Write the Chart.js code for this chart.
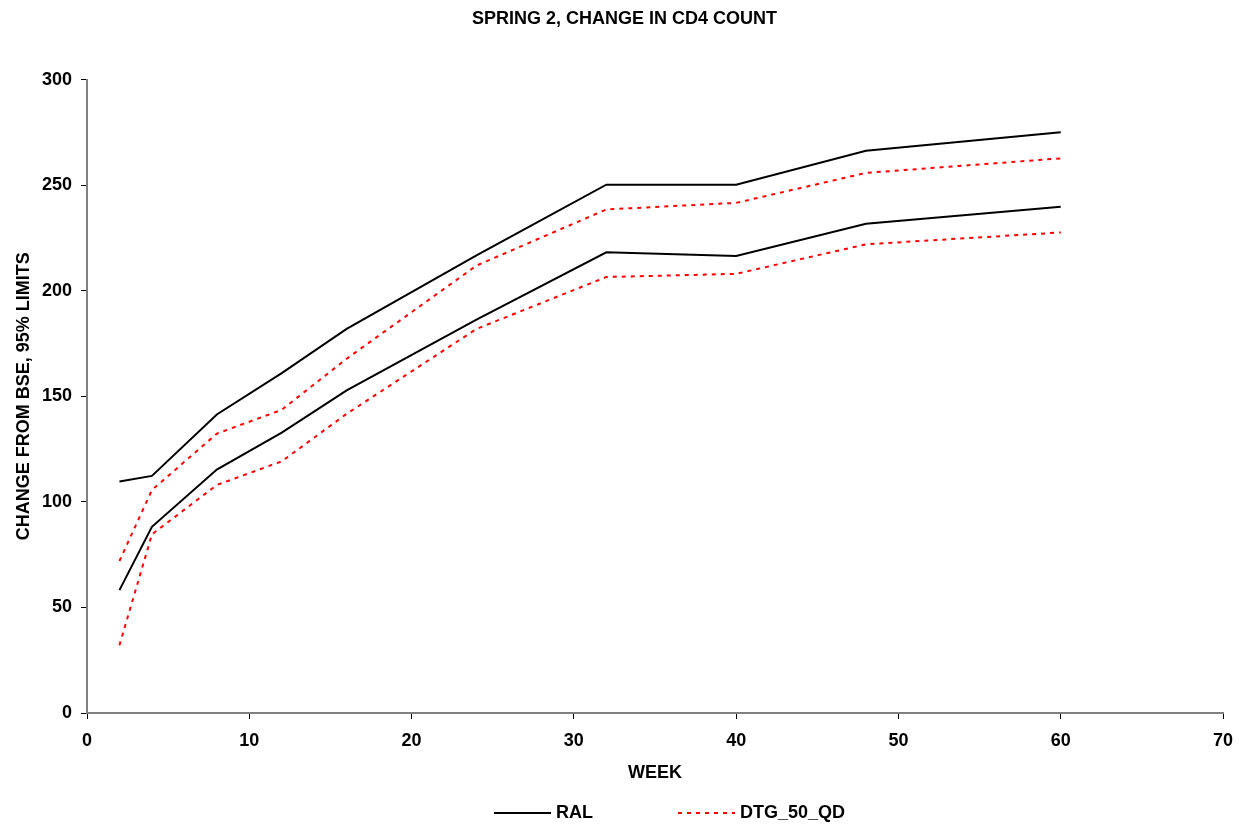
<!DOCTYPE html>
<html>
<head>
<meta charset="utf-8">
<title>SPRING 2, CHANGE IN CD4 COUNT</title>
<script src="https://cdn.jsdelivr.net/npm/chart.js@4/dist/chart.umd.min.js"></script>
<style>
    html, body { margin: 0; padding: 0; background: #fff; }
    #wrap { width: 1249px; height: 827px; }
</style>
</head>
<body>
<div id="wrap"><canvas id="cd4Chart" width="1249" height="827"></canvas></div>
<script>
// weeks on study
const weeks = [2, 4, 8, 12, 16, 24, 32, 40, 48, 60];

// 95% limits of change from baseline CD4
const ralUpper = [109.6, 112.3, 141.4, 161, 181.9, 216.8, 250.2, 250.2, 266.3, 275.1];
const ralLower = [58.2, 88.2, 115.3, 132.8, 152.8, 186.3, 218.2, 216.5, 231.7, 239.8];
const dtgUpper = [72, 105.6, 132.3, 143.6, 167.8, 211.9, 238.5, 241.6, 255.8, 262.7];
const dtgLower = [32.1, 84.6, 108, 119.2, 141.7, 181.9, 206.5, 208, 222, 227.6];

const seriesNames = ["RAL", "DTG_50_QD"];
const xTicks = [0, 10, 20, 30, 40, 50, 60, 70];
const yTicks = [0, 50, 100, 150, 200, 250, 300];

const FONT = "'Liberation Sans', Arial, sans-serif";

function toPoints(values) {
    return weeks.map((w, i) => ({ x: w, y: values[i] }));
}

function solid(values) {
    return {
        label: seriesNames[0],
        data: toPoints(values),
        borderColor: "#000000",
        borderWidth: 2,
        pointRadius: 0,
        tension: 0,
        fill: false
    };
}

function dashed(values) {
    return {
        label: seriesNames[1],
        data: toPoints(values),
        borderColor: "#ff0000",
        borderWidth: 2,
        borderDash: [4, 5],
        pointRadius: 0,
        tension: 0,
        fill: false
    };
}

// simple line legend under the axis title
const lineLegend = {
    id: "lineLegend",
    afterDraw(chart) {
        const ctx = chart.ctx;
        const ds = chart.data.datasets;
        const items = [
            { set: ds[0], x: 494, text: seriesNames[0] },
            { set: ds[2], x: 678, text: seriesNames[1] }
        ];
        const y = 813;
        ctx.save();
        items.forEach(it => {
            ctx.beginPath();
            ctx.strokeStyle = it.set.borderColor;
            ctx.lineWidth = it.set.borderWidth;
            ctx.setLineDash(it.set.borderDash || []);
            ctx.moveTo(it.x, y);
            ctx.lineTo(it.x + 57, y);
            ctx.stroke();
            ctx.setLineDash([]);
            ctx.fillStyle = "#000";
            ctx.font = "bold 18px " + FONT;
            ctx.textBaseline = "middle";
            ctx.fillText(it.text, it.x + 62, y);
        });
        ctx.restore();
    }
};

let ctx = document.getElementById("cd4Chart").getContext("2d");
let cd4Chart = new Chart(ctx, {
    type: "line",
    data: {
        datasets: [solid(ralUpper), solid(ralLower), dashed(dtgUpper), dashed(dtgLower)]
    },
    options: {
        responsive: false,
        animation: false,
        layout: { padding: { left: 0, right: 0, top: 0, bottom: 30 } },
        plugins: {
            legend: { display: false },
            tooltip: { enabled: false },
            title: {
                display: true,
                text: "SPRING 2, CHANGE IN CD4 COUNT",
                color: "#000",
                font: { family: FONT, size: 18, weight: "bold" },
                padding: { top: 8, bottom: 50 }
            }
        },
        scales: {
            x: {
                type: "linear",
                min: 0,
                max: 70,
                afterBuildTicks: axis => { axis.ticks = xTicks.map(v => ({ value: v })); },
                afterFit: axis => { axis.height = 84; axis.paddingRight = 26; },
                ticks: {
                    color: "#000",
                    padding: 11,
                    maxRotation: 0,
                    font: { family: FONT, size: 18, weight: "bold" }
                },
                grid: {
                    drawOnChartArea: false,
                    drawTicks: true,
                    tickLength: 6,
                    tickColor: "#000"
                },
                border: { color: "#808080", width: 2 },
                title: {
                    display: true,
                    text: "WEEK",
                    color: "#000",
                    font: { family: FONT, size: 18, weight: "bold" },
                    padding: { top: 11, bottom: 13 }
                }
            },
            y: {
                min: 0,
                max: 300,
                afterBuildTicks: axis => { axis.ticks = yTicks.map(v => ({ value: v })); },
                afterFit: axis => { axis.width = 87; },
                ticks: {
                    color: "#000",
                    padding: 9,
                    font: { family: FONT, size: 18, weight: "bold" }
                },
                grid: {
                    drawOnChartArea: false,
                    drawTicks: true,
                    tickLength: 6,
                    tickColor: "#000"
                },
                border: { color: "#808080", width: 2 },
                title: {
                    display: true,
                    text: "CHANGE FROM BSE, 95% LIMITS",
                    color: "#000",
                    font: { family: FONT, size: 18, weight: "bold" },
                    padding: { top: 13, bottom: 0 }
                }
            }
        }
    },
    plugins: [lineLegend]
});
</script>
</body>
</html>
